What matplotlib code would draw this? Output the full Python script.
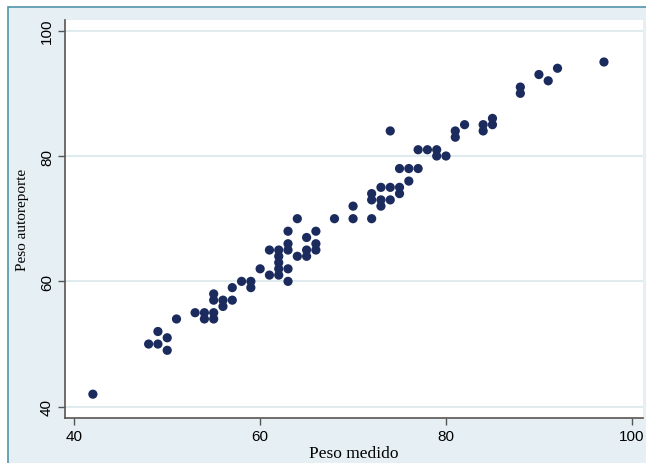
import matplotlib
matplotlib.use("Agg")
import matplotlib.pyplot as plt
from matplotlib.patches import Rectangle

# measured weight (x) and self-reported weight (y)
peso_medido = [42, 48, 49, 49, 50, 50, 51, 53, 54, 54,
               55, 55, 55, 55, 56, 56, 57, 57, 58, 59,
               59, 60, 61, 61, 62, 62, 62, 62, 62, 63,
               63, 63, 63, 63, 64, 64, 65, 65, 65, 66,
               66, 66, 68, 70, 70, 72, 72, 72, 73, 73,
               73, 74, 74, 74, 75, 75, 75, 76, 76, 77,
               77, 78, 79, 79, 80, 81, 81, 82, 84, 84,
               85, 85, 88, 88, 90, 91, 92, 97]
peso_autoreporte = [42, 50, 50, 52, 51, 49, 54, 55, 55, 54,
                    58, 57, 55, 54, 57, 56, 59, 57, 60, 60,
                    59, 62, 65, 61, 65, 64, 63, 62, 61, 68,
                    66, 65, 62, 60, 70, 64, 67, 65, 64, 68,
                    66, 65, 70, 72, 70, 74, 73, 70, 75, 73,
                    72, 84, 75, 73, 78, 75, 74, 78, 76, 81,
                    78, 81, 81, 80, 80, 84, 83, 85, 85, 84,
                    86, 85, 91, 90, 93, 92, 94, 95]

x_ticks = [40, 60, 80, 100]
y_ticks = [40, 60, 80, 100]

W, H = 646, 464
fig = plt.figure(figsize=(W / 100, H / 100), dpi=100)
fig.patch.set_facecolor("white")

# Stata-style outer panel with thin teal border
fig.patches.append(Rectangle((8 / W, -0.05), 1.1, 1 - 8 / H + 0.05,
                             transform=fig.transFigure, facecolor="#e6eff3",
                             edgecolor="#4f95aa", linewidth=1.2, zorder=0))

ax = fig.add_axes([65 / W, 1 - 419 / H, (643 - 65) / W, (419 - 21) / H])
ax.set_facecolor("white")
ax.set_zorder(1)

ax.scatter(peso_medido, peso_autoreporte, s=44, color="#1c2b5e",
           edgecolors="none", zorder=3)

ax.set_xlim(39.0, 101.2)
ax.set_ylim(38.2, 101.7)
ax.set_xticks(x_ticks)
ax.set_yticks(y_ticks)
ax.set_xticklabels([str(v) for v in x_ticks], fontfamily="Liberation Sans", fontsize=11)
ax.set_yticklabels([str(v) for v in y_ticks], fontfamily="Liberation Sans", fontsize=11,
                   rotation=90, va="center")
ax.tick_params(axis="both", length=5, width=1, color="#555555", pad=3)

ax.grid(axis="y", color="#dfebef", linewidth=1.5)
ax.set_axisbelow(True)

for side in ("top", "right"):
    ax.spines[side].set_visible(False)
for side in ("left", "bottom"):
    ax.spines[side].set_color("#5a5450")
    ax.spines[side].set_linewidth(1.2)

ax.set_xlabel("Peso medido", fontfamily="Liberation Serif", fontsize=12.5, labelpad=1)
ax.set_ylabel("Peso autoreporte", fontfamily="Liberation Serif", fontsize=11, labelpad=8)

fig.savefig("out.png", dpi=100)
